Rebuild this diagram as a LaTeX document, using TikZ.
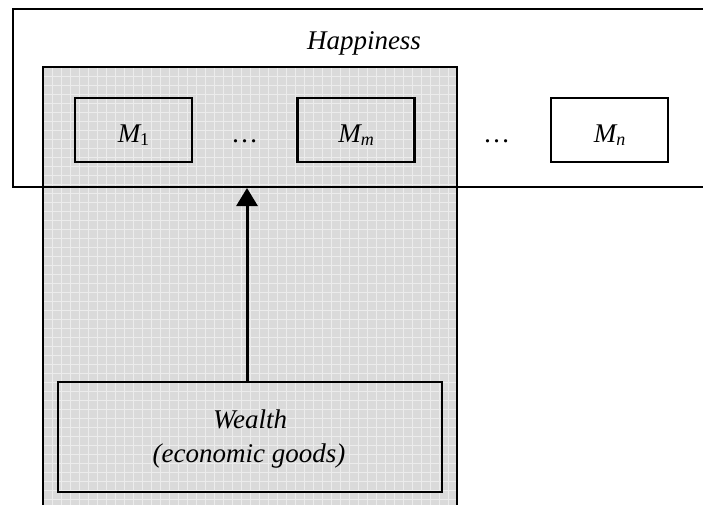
\documentclass[tikz,border=0pt]{standalone}
\usepackage{fontspec}
\setmainfont{Liberation Serif}
\usetikzlibrary{arrows.meta}
\definecolor{texfill}{RGB}{218,218,218}
\definecolor{gridc}{RGB}{236,236,236}
\tikzset{
  frame/.style={draw=black, line width=2.4pt, inner sep=0pt},
  mbox/.style={frame, minimum width=117pt, minimum height=64pt},
  lbl/.style={font=\fontsize{27}{30}\selectfont\itshape, inner sep=0pt, anchor=base},
  arr/.style={line width=3pt, -{Triangle[length=18pt,width=21pt]}},
}
\newcommand{\mlab}[1]{M\raisebox{-0.28ex}{\fontsize{18}{18}\selectfont #1}}
\begin{document}
\begin{tikzpicture}[x=1pt,y=-1pt]
\useasboundingbox (0,0) rectangle (703,504);
\clip (0,0) rectangle (703,504);
% gray textured region
\fill[texfill] (43,67) rectangle (457,530);
\begin{scope}
  \clip (43,67) rectangle (457,530);
  \foreach \i in {0,...,46} \draw[gridc, line width=1pt] (43+9*\i,67) -- ++(0,470);
  \foreach \j in {0,...,52} \draw[gridc, line width=1pt] (43,67+9*\j) -- ++(420,0);
\end{scope}
\node[frame, minimum width=414pt, minimum height=463pt] (wealthfield) at (250,298.5) {};
% happiness box
\node[frame, minimum width=707pt, minimum height=178pt] (happy) at (366.5,98) {};
\node[lbl] (htxt) at (364,49) {Happiness};
% motive boxes
\node[mbox] (m1) at (133.5,130) {};
\node[mbox] (mm) at (356,130) {};
\node[mbox] (mn) at (609.5,130) {};
\node[lbl] (m1t) at (133.5,142) {\mlab{\upshape 1}};
\node[lbl] (mmt) at (356,142) {\mlab{m}};
\node[lbl] (mnt) at (609.5,142) {\mlab{n}};
\node[lbl] (d1) at (245,142) {\dots};
\node[lbl] (d2) at (497,142) {\dots};
% wealth box
\node[frame, minimum width=384pt, minimum height=110pt] (wealth) at (250,437) {};
\node[lbl] (w1) at (250,428) {Wealth};
\node[lbl] (w2) at (249,462) {(economic goods)};
% arrow
\coordinate (tip) at (247,188);
\draw[arr] (tip |- wealth.north) -- (tip);
\end{tikzpicture}
\end{document}
